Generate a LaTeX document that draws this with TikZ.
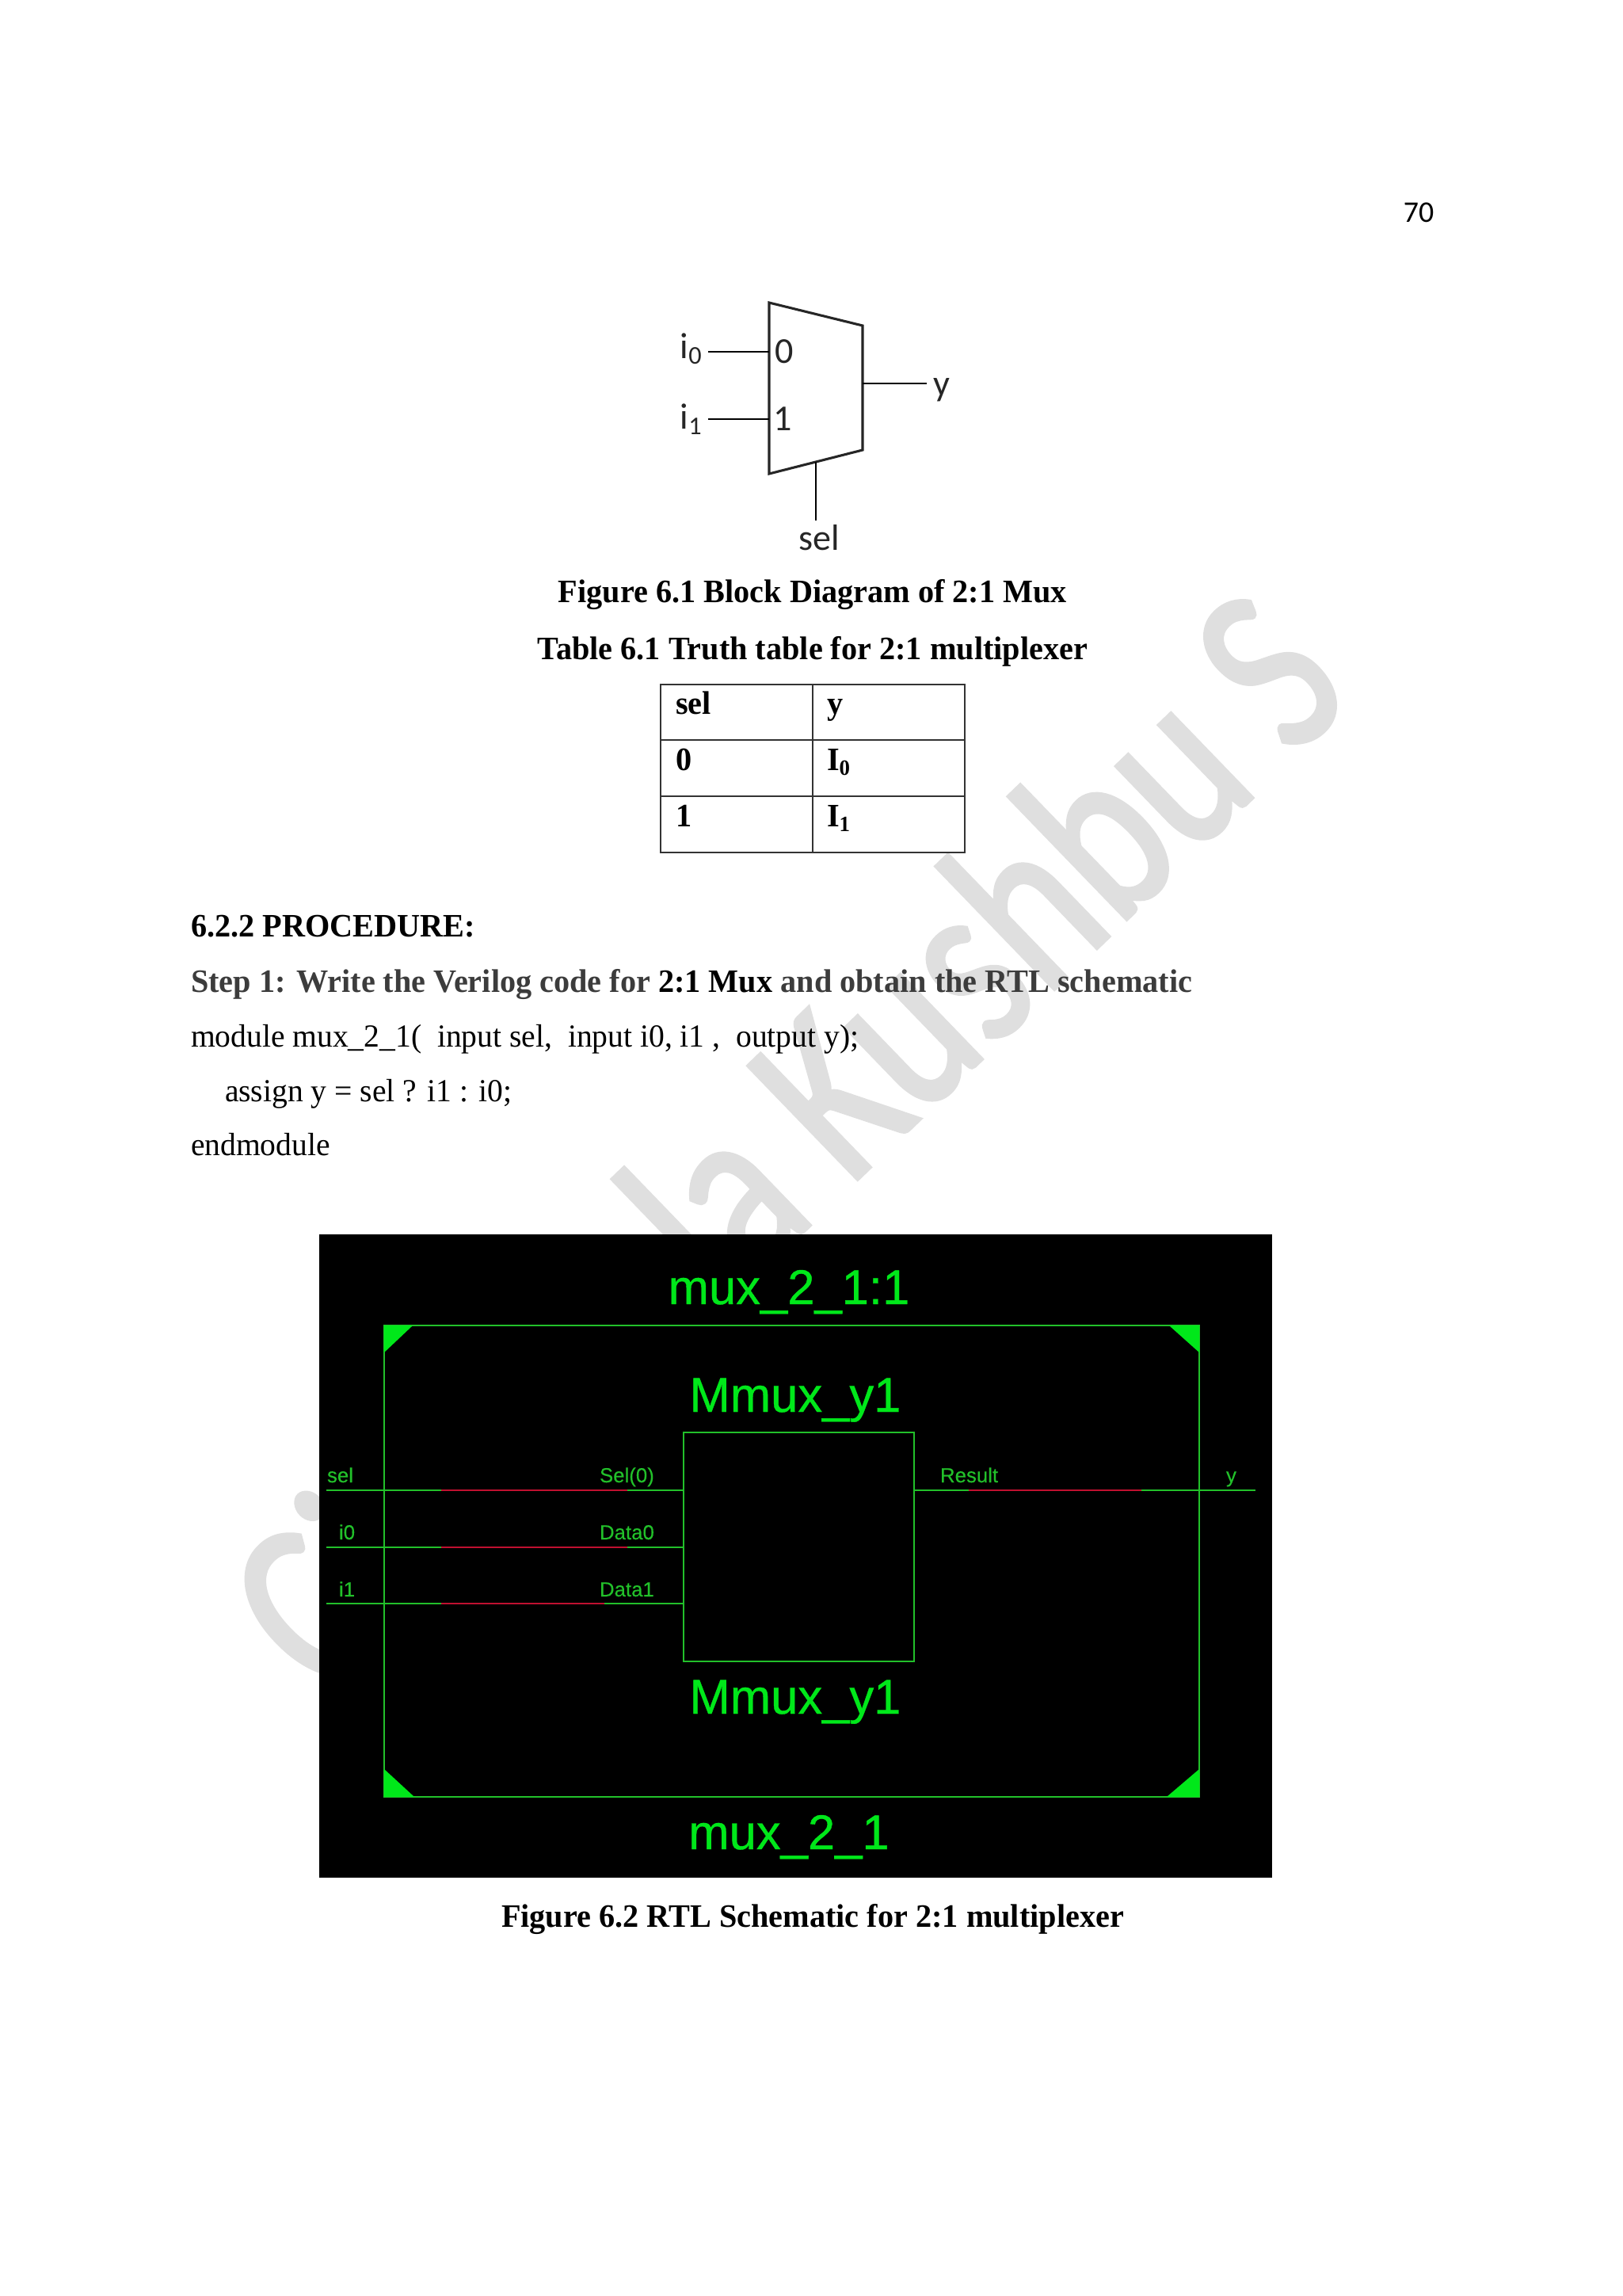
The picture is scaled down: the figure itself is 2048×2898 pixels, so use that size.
\documentclass[tikz,border=0pt]{standalone}
\usepackage{fontspec}
\usepackage{xcolor}
\setmainfont[FakeStretch=0.975]{Liberation Serif}
\newfontfamily\calibfont{Carlito}
\newfontfamily\arialfont[FakeBold=0.6]{Liberation Sans}
\newfontfamily\smallfont[FakeBold=0.2]{Liberation Sans}
\newfontfamily\marksfont[FakeBold=1.6,FakeStretch=0.78]{Carlito}
\usetikzlibrary{positioning}
\definecolor{schemgreen}{HTML}{00E81A}
\definecolor{wiregreen}{HTML}{22C02A}
\definecolor{wirered}{HTML}{C01030}
\definecolor{marksgray}{HTML}{DFDFDF}
\definecolor{stepgray}{HTML}{3C3C3C}
\tikzset{
  every node/.style={inner sep=0pt,outer sep=0pt},
  plain/.style={anchor=base west,font=\fontsize{11.8}{14}\selectfont},
  caption/.style={anchor=base,font=\fontsize{12}{14}\selectfont\bfseries},
  cellhead/.style={anchor=base west,font=\fontsize{12}{14}\selectfont\bfseries},
  cellbox/.style={draw=black!80,line width=0.6pt,minimum width=55.8pt,minimum height=20.6pt},
  blocklabel/.style={anchor=base,font=\calibfont\fontsize{13.4}{15}\selectfont,text=black!85},
  biglabel/.style={anchor=base,font=\arialfont\fontsize{17.9}{20}\selectfont,text=schemgreen},
  pinlabel/.style={anchor=base west,font=\smallfont\fontsize{7.5}{9}\selectfont,text=wiregreen},
  wire/.style={draw=wiregreen,line width=0.6pt},
  redwire/.style={draw=wirered,line width=0.65pt},
  box/.style={draw=wiregreen,line width=0.65pt},
  marks/.style={anchor=base west,rotate=44,text=marksgray,font=\marksfont\fontsize{90}{100}\selectfont}
}
\begin{document}
\begin{tikzpicture}[x=0.29066pt,y=-0.29066pt]
\useasboundingbox (0,0) rectangle (2048,2898);
\node (pageno) [anchor=base,font=\calibfont\fontsize{11}{13}\selectfont] at (1791,280) {70};

% watermark
\node (markleft) [marks] at (413,2149) {Ci};
\node (markright) [marks] at (910,1655) {la Kushbu S};

% block diagram
\coordinate (tl) at (971,382);
\coordinate (tr) at (1089,411);
\coordinate (br) at (1089,568);
\coordinate (bl) at (971,598);
\draw[line width=0.9pt,black!85] (tl) -- (tr) -- (br) -- (bl) -- cycle;
\node (i0) [blocklabel] at (873,452) {i\textsubscript{0}};
\node (i1) [blocklabel] at (873,541) {i\textsubscript{1}};
\node (d0) [blocklabel] at (990,458) {0};
\node (d1) [blocklabel] at (988,543) {1};
\node (yout) [blocklabel] at (1189,499) {y};
\node (selin) [blocklabel] at (1034,694) {sel};
\coordinate (i0end) at (894,444);
\coordinate (i1end) at (894,529);
\coordinate (yend) at (1170,484);
\coordinate (selend) at (1030,657);
\draw[line width=0.6pt] (i0end) -- (i0end -| tl);
\draw[line width=0.6pt] (i1end) -- (i1end -| tl);
\draw[line width=0.6pt] (yend -| tr) -- (yend);
\draw[line width=0.6pt] (selend) -- (1030,583);

\node (figone) [caption] at (1026,760) {Figure 6.1 Block Diagram of 2:1 Mux};
\node (tabone) [caption] at (1026,832) {Table 6.1 Truth table for 2:1 multiplexer};

% truth table
\node (c11) [cellbox] at (930,899) {};
\node (c12) [cellbox,right of=c11,node distance=55.8pt] {};
\node (c21) [cellbox,below of=c11,node distance=20.6pt] {};
\node (c22) [cellbox,right of=c21,node distance=55.8pt] {};
\node (c31) [cellbox,below of=c21,node distance=20.6pt] {};
\node (c32) [cellbox,right of=c31,node distance=55.8pt] {};
\node (selhead) [cellhead] at (853,901) {sel};
\node (yhead) [cellhead] at (1044,901) {y};
\node (zero) [cellhead] at (853,972) {0};
\node (izero) [cellhead] at (1044,972) {I\textsubscript{0}};
\node (one) [cellhead] at (853,1043) {1};
\node (ione) [cellhead] at (1044,1043) {I\textsubscript{1}};

% procedure text
\node (proc) [cellhead] at (241,1182) {6.2.2 PROCEDURE:};
\node (stepone) [cellhead,text=stepgray] at (241,1252) {Step 1: Write the Verilog code for {\color{black}2:1 Mux} and obtain the RTL schematic};
\node (modline) [plain] at (241,1321) {module mux\_2\_1(~ input sel,~ input i0, i1 ,~ output y);};
\node (assignline) [plain] at (284,1390) {assign y = sel ? i1 : i0;};
\node (endline) [plain] at (241,1458) {endmodule};

% rtl schematic
\node (screen) [anchor=north west,fill=black,minimum width=349.7pt,minimum height=236pt] at (403,1558) {};
\node (outer) [box,minimum width=299.1pt,minimum height=172.9pt] at (999.5,1970.5) {};
\node (mmux) [box,minimum width=84.6pt,minimum height=84pt] at (1008.5,1952.5) {};
\fill[schemgreen] (outer.north west) -- +(36,0) -- +(0,34) -- cycle;
\fill[schemgreen] (outer.north east) -- +(-38,0) -- +(0,34) -- cycle;
\fill[schemgreen] (outer.south west) -- +(38,0) -- +(0,-35) -- cycle;
\fill[schemgreen] (outer.south east) -- +(-41,0) -- +(0,-35) -- cycle;

\node (modtop) [biglabel] at (996,1646) {mux\_2\_1:1};
\node (insttop) [biglabel] at (1004,1782) {Mmux\_y1};
\node (instbot) [biglabel] at (1004,2163) {Mmux\_y1};
\node (modbot) [biglabel] at (996,2334) {mux\_2\_1};

\coordinate (selstart) at (412,1881);
\coordinate (selred) at (557,1881);
\coordinate (selredend) at (792,1881);
\draw[wire] (selstart) -- (selred);
\draw[redwire] (selred) -- (selredend);
\draw[wire] (selredend) -- (selredend -| mmux.west);
\coordinate (datazstart) at (412,1953);
\coordinate (datazred) at (557,1953);
\coordinate (datazredend) at (792,1953);
\draw[wire] (datazstart) -- (datazred);
\draw[redwire] (datazred) -- (datazredend);
\draw[wire] (datazredend) -- (datazredend -| mmux.west);
\coordinate (dataostart) at (412,2024);
\coordinate (dataored) at (557,2024);
\coordinate (dataoredend) at (763,2024);
\draw[wire] (dataostart) -- (dataored);
\draw[redwire] (dataored) -- (dataoredend);
\draw[wire] (dataoredend) -- (dataoredend -| mmux.west);
\coordinate (resred) at (1223,1881);
\coordinate (resredend) at (1441,1881);
\coordinate (resend) at (1585,1881);
\draw[wire] (resred -| mmux.east) -- (resred);
\draw[redwire] (resred) -- (resredend);
\draw[wire] (resredend) -- (resend);

\node (sellab) [pinlabel] at (413,1871) {sel};
\node (izlab) [pinlabel] at (428,1943) {i0};
\node (iolab) [pinlabel] at (428,2015) {i1};
\node (sellabin) [pinlabel] at (757,1871) {Sel(0)};
\node (datazlab) [pinlabel] at (757,1943) {Data0};
\node (dataolab) [pinlabel] at (757,2015) {Data1};
\node (reslab) [pinlabel] at (1187,1871) {Result};
\node (ylab) [pinlabel] at (1548,1871) {y};

\node (figtwo) [caption] at (1026,2432) {Figure 6.2 RTL Schematic for 2:1 multiplexer};
\end{tikzpicture}
\end{document}
